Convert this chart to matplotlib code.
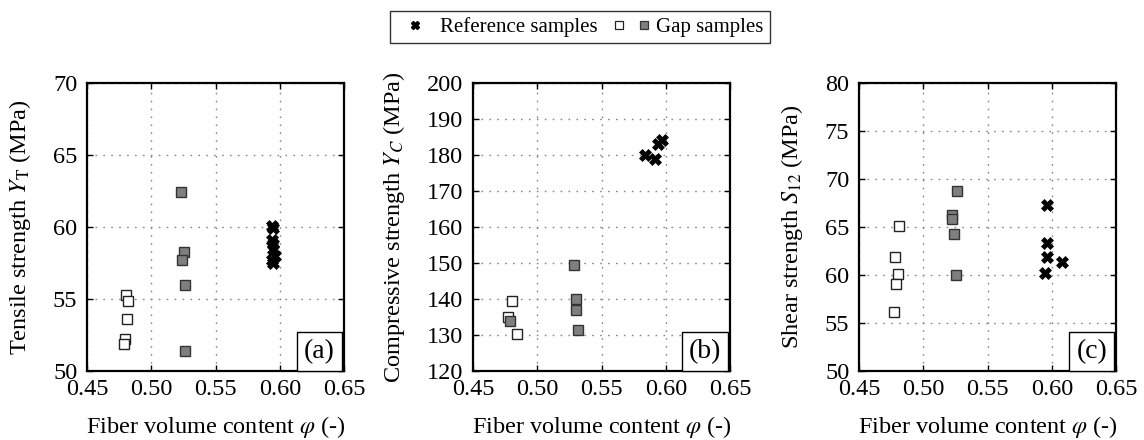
import matplotlib
matplotlib.use("Agg")
import matplotlib.pyplot as plt
from matplotlib.lines import Line2D
from matplotlib.legend_handler import HandlerTuple

plt.rcParams['font.family'] = ['Liberation Serif', 'DejaVu Serif']
plt.rcParams['mathtext.fontset'] = 'stix'

# ---- data ----
# (a) tensile strength
a_ref_x = [0.594, 0.595, 0.594, 0.595, 0.595, 0.596, 0.594, 0.595]
a_ref_y = [60.1, 59.95, 59.1, 58.85, 58.5, 58.0, 57.7, 57.5]
a_open_x = [0.4802, 0.4818, 0.4810, 0.4792, 0.4786]
a_open_y = [55.3, 54.86, 53.59, 52.2, 51.9]
a_gray_x = [0.5233, 0.5256, 0.5243, 0.5264, 0.5264]
a_gray_y = [62.45, 58.29, 57.69, 55.97, 51.37]

# (b) compressive strength
b_ref_x = [0.5836, 0.5916, 0.5937, 0.5973]
b_ref_y = [179.9, 178.8, 183.1, 184.3]
b_open_x = [0.4800, 0.4771, 0.4841]
b_open_y = [139.35, 135.05, 130.2]
b_gray_x = [0.4785, 0.5288, 0.5301, 0.5304, 0.5314]
b_gray_y = [134.0, 149.35, 139.9, 137.0, 131.3]

# (c) shear strength
c_ref_x = [0.5961, 0.5965, 0.5961, 0.5948, 0.6078]
c_ref_y = [67.3, 63.33, 61.86, 60.26, 61.34]
c_open_x = [0.4808, 0.4780, 0.4806, 0.4785, 0.4775]
c_open_y = [65.14, 61.83, 60.12, 59.08, 56.11]
c_gray_x = [0.5259, 0.5220, 0.5223, 0.5236, 0.5256]
c_gray_y = [68.76, 66.25, 65.87, 64.27, 59.95]

x_ticks = [0.45, 0.50, 0.55, 0.60, 0.65]
x_ticklabels = ["0.45", "0.50", "0.55", "0.60", "0.65"]
ylabels = [r"Tensile strength $Y_\mathrm{T}$ (MPa)",
           r"Compressive strength $Y_C$ (MPa)",
           r"Shear strength $S_{12}$ (MPa)"]
ylims = [(50, 70), (120, 200), (50, 80)]
yticks = [list(range(50, 71, 5)), list(range(120, 201, 10)), list(range(50, 81, 5))]
panel_tags = ["(a)", "(b)", "(c)"]
xlabel = r"Fiber volume content $\varphi$ (-)"

panels = [
    (a_ref_x, a_ref_y, a_open_x, a_open_y, a_gray_x, a_gray_y),
    (b_ref_x, b_ref_y, b_open_x, b_open_y, b_gray_x, b_gray_y),
    (c_ref_x, c_ref_y, c_open_x, c_open_y, c_gray_x, c_gray_y),
]

W, H = 1144, 440
fig = plt.figure(figsize=(W / 100, H / 100), dpi=100)
lefts = [87, 473, 859]
FS = 17.5
gray = '#7f7f7f'

for i, (rx, ry, ox, oy, gx, gy) in enumerate(panels):
    ax = fig.add_axes([lefts[i] / W, 1 - 371 / H, 257 / W, 288 / H])
    ax.set_xlim(0.45, 0.65)
    ax.set_ylim(*ylims[i])
    ax.set_xticks(x_ticks)
    ax.set_xticklabels(x_ticklabels)
    ax.set_yticks(yticks[i])
    ax.grid(True, color='#888888', linestyle=(0, (1.2, 4.5)), linewidth=1.0)
    ax.set_axisbelow(True)
    ax.tick_params(direction='in', top=True, right=True, length=4, width=1,
                   labelsize=FS)
    ax.tick_params(axis='x', pad=6)
    ax.tick_params(axis='y', pad=7)
    for sp in ax.spines.values():
        sp.set_linewidth(1.6)
    ax.plot(ox, oy, 's', ms=7, mfc='white', mec='#222222', mew=1.0, zorder=3)
    ax.plot(gx, gy, 's', ms=7, mfc=gray, mec='#333333', mew=1.0, zorder=3)
    ax.plot(rx, ry, 'X', ms=8, mfc='black', mec='black', mew=0.5, zorder=4)
    ax.set_xlabel(xlabel, fontsize=FS, labelpad=10)
    ax.set_ylabel(ylabels[i], fontsize=FS, labelpad=14)
    ax.text(0.965, 0.025, panel_tags[i], transform=ax.transAxes, ha='right',
            va='bottom', fontsize=20,
            bbox=dict(boxstyle='square,pad=0.25', fc='white', ec='black', lw=1.0),
            zorder=5)

h_ref = Line2D([], [], ls='none', marker='X', ms=6, mfc='black', mec='black')
h_open = Line2D([], [], ls='none', marker='s', ms=6, mfc='white', mec='#222222', mew=0.9)
h_gray = Line2D([], [], ls='none', marker='s', ms=6, mfc=gray, mec='#333333', mew=0.9)
leg = fig.legend([h_ref, (h_open, h_gray)], ["Reference samples", "Gap samples"],
                 handler_map={tuple: HandlerTuple(ndivide=None, pad=0.6)},
                 loc='center', bbox_to_anchor=(580 / W, 1 - 27 / H), ncol=2,
                 fontsize=15, frameon=True, fancybox=False, edgecolor='black',
                 handlelength=1.8, handletextpad=0.3, columnspacing=0.7,
                 borderpad=0.3, borderaxespad=0)
leg.get_frame().set_linewidth(1.0)

fig.savefig("out.png", dpi=100)
